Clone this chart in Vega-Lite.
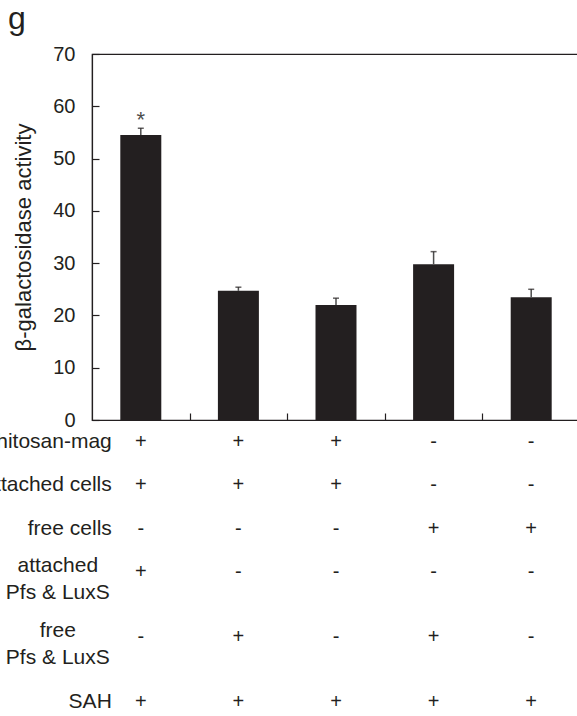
{
  "$schema": "https://vega.github.io/schema/vega-lite/v6.json",
  "autosize": "none",
  "padding": {"left": 92, "top": 54, "right": 485, "bottom": 662},
  "bounds": "flush",
  "spacing": 22,
  "config": {
    "font": "Liberation Sans",
    "view": {"stroke": "#231f20", "strokeWidth": 1.2},
    "axis": {"grid": false, "domainColor": "#231f20", "tickColor": "#231f20", "labelColor": "#231f20", "titleColor": "#231f20", "domainWidth": 1.2, "tickWidth": 1.2}
  },
  "title": {"text": "g", "anchor": "start", "frame": "group", "fontSize": 32, "fontWeight": "normal", "color": "#231f20", "dx": -84, "dy": 34, "offset": 16, "baseline": "alphabetic"},
  "datasets": {
    "bars": [
      {"group": "1", "value": 54.5, "upper": 55.8, "sig": "*"},
      {"group": "2", "value": 24.7, "upper": 25.4, "sig": ""},
      {"group": "3", "value": 22.0, "upper": 23.3, "sig": ""},
      {"group": "4", "value": 29.8, "upper": 32.2, "sig": ""},
      {"group": "5", "value": 23.5, "upper": 25.0, "sig": ""}
    ],
    "table": [
      {"condition": "chitosan-mag", "group": "1", "sign": "+"},
      {"condition": "chitosan-mag", "group": "2", "sign": "+"},
      {"condition": "chitosan-mag", "group": "3", "sign": "+"},
      {"condition": "chitosan-mag", "group": "4", "sign": "-"},
      {"condition": "chitosan-mag", "group": "5", "sign": "-"},
      {"condition": "attached cells", "group": "1", "sign": "+"},
      {"condition": "attached cells", "group": "2", "sign": "+"},
      {"condition": "attached cells", "group": "3", "sign": "+"},
      {"condition": "attached cells", "group": "4", "sign": "-"},
      {"condition": "attached cells", "group": "5", "sign": "-"},
      {"condition": "free cells", "group": "1", "sign": "-"},
      {"condition": "free cells", "group": "2", "sign": "-"},
      {"condition": "free cells", "group": "3", "sign": "-"},
      {"condition": "free cells", "group": "4", "sign": "+"},
      {"condition": "free cells", "group": "5", "sign": "+"},
      {"condition": "attached Pfs & LuxS", "group": "1", "sign": "+"},
      {"condition": "attached Pfs & LuxS", "group": "2", "sign": "-"},
      {"condition": "attached Pfs & LuxS", "group": "3", "sign": "-"},
      {"condition": "attached Pfs & LuxS", "group": "4", "sign": "-"},
      {"condition": "attached Pfs & LuxS", "group": "5", "sign": "-"},
      {"condition": "free Pfs & LuxS", "group": "1", "sign": "-"},
      {"condition": "free Pfs & LuxS", "group": "2", "sign": "+"},
      {"condition": "free Pfs & LuxS", "group": "3", "sign": "-"},
      {"condition": "free Pfs & LuxS", "group": "4", "sign": "+"},
      {"condition": "free Pfs & LuxS", "group": "5", "sign": "-"},
      {"condition": "SAH", "group": "1", "sign": "+"},
      {"condition": "SAH", "group": "2", "sign": "+"},
      {"condition": "SAH", "group": "3", "sign": "+"},
      {"condition": "SAH", "group": "4", "sign": "+"},
      {"condition": "SAH", "group": "5", "sign": "+"}
    ],
    "rows": [
      {"condition": "chitosan-mag", "label": "chitosan-mag"},
      {"condition": "attached cells", "label": "attached cells"},
      {"condition": "free cells", "label": "free cells"},
      {"condition": "attached Pfs & LuxS", "label": "attached\nPfs & LuxS"},
      {"condition": "free Pfs & LuxS", "label": "free\nPfs & LuxS"},
      {"condition": "SAH", "label": "SAH"}
    ]
  },
  "vconcat": [
    {
      "width": 488,
      "height": 366,
      "data": {"name": "bars"},
      "encoding": {
        "x": {"field": "group", "type": "nominal", "scale": {"domain": ["1", "2", "3", "4", "5"], "paddingInner": 0.58, "paddingOuter": 0.29},
          "axis": {"title": null, "labels": false, "tickOffset": 48.8, "tickSize": -7}}
      },
      "layer": [
        {
          "mark": {"type": "bar", "color": "#231f20"},
          "encoding": {
            "y": {"field": "value", "type": "quantitative", "scale": {"domain": [0, 70]},
              "axis": {"title": "β-galactosidase activity", "titleFontSize": 22, "titleFontWeight": "normal", "titlePadding": 17, "values": [0, 10, 20, 30, 40, 50, 60, 70], "labelFontSize": 20, "tickSize": -7, "labelPadding": 24}}
          }
        },
        {
          "mark": {"type": "rule", "color": "#4d4d4d", "strokeWidth": 1.5},
          "encoding": {"y": {"field": "value", "type": "quantitative"}, "y2": {"field": "upper"}}
        },
        {
          "mark": {"type": "tick", "color": "#231f20", "thickness": 1.5, "size": 6},
          "encoding": {"y": {"field": "upper", "type": "quantitative"}}
        },
        {
          "mark": {"type": "text", "fontSize": 22, "baseline": "middle", "dy": -8, "color": "#4d4d4d"},
          "encoding": {"y": {"field": "upper", "type": "quantitative"}, "text": {"field": "sig"}}
        }
      ]
    },
    {
      "width": 488,
      "height": 260,
      "view": {"stroke": null},
      "encoding": {
        "y": {"field": "condition", "type": "nominal", "axis": null,
          "scale": {"type": "point", "padding": 0, "domain": ["chitosan-mag", "_a", "attached cells", "_b", "free cells", "_c", "attached Pfs & LuxS", "_d", "_e", "free Pfs & LuxS", "_f", "_g", "SAH"]}}
      },
      "layer": [
        {
          "data": {"name": "table"},
          "mark": {"type": "text", "fontSize": 20, "color": "#231f20", "baseline": "middle"},
          "encoding": {
            "x": {"field": "group", "type": "nominal", "axis": null, "scale": {"domain": ["1", "2", "3", "4", "5"], "paddingInner": 0.58, "paddingOuter": 0.29}},
            "text": {"field": "sign"}
          }
        },
        {
          "data": {"name": "rows"},
          "transform": [{"filter": "indexof(datum.label, '\\n') < 0"}],
          "mark": {"type": "text", "fontSize": 21, "color": "#231f20", "align": "right", "baseline": "middle", "dx": -29},
          "encoding": {"x": {"datum": "1", "type": "nominal"}, "text": {"field": "label"}}
        },
        {
          "data": {"name": "rows"},
          "transform": [{"filter": "indexof(datum.label, '\\n') >= 0"}],
          "mark": {"type": "text", "fontSize": 21, "color": "#231f20", "align": "center", "baseline": "middle", "dx": -83, "dy": -6, "lineBreak": "\n", "lineHeight": 27},
          "encoding": {"x": {"datum": "1", "type": "nominal"}, "text": {"field": "label"}}
        }
      ]
    }
  ]
}
